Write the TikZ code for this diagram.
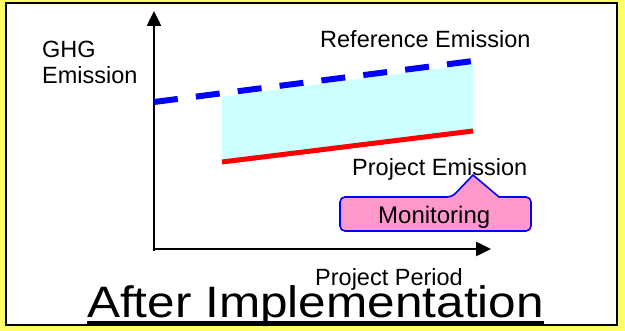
\documentclass[tikz,border=0pt]{standalone}
\usepackage{fontspec}
\setmainfont{Liberation Sans}
\usetikzlibrary{arrows.meta}
\definecolor{bgyellow}{RGB}{255,255,102}
\definecolor{gapcyan}{RGB}{204,255,255}
\definecolor{monpink}{RGB}{255,153,204}
\tikzset{
  axis/.style={line width=2.5pt,-{Triangle[length=15pt,width=14pt]}},
  lbl/.style={inner sep=0pt,font=\fontsize{23.5}{26}\selectfont},
}
\begin{document}
\begin{tikzpicture}[x=1pt,y=-1pt]
  % page and frame
  \fill[bgyellow] (0,0) rectangle (625,331);
  \draw[line width=2pt,fill=white] (6,3) rectangle (617,325);
  \useasboundingbox (0,0) rectangle (625,331);

  % axes
  \coordinate (O) at (154,249);
  \coordinate (ytip) at (154,11);
  \coordinate (xtip) at (491,249);
  \coordinate (ybot) at (154,251);
  \draw[axis] (ybot) -- (ytip);
  \draw[axis] (O) -- (xtip);

  % reduction band between reference and project emissions
  \fill[gapcyan] (222,97) -- (473,64) -- (473,131) -- (222,162) -- cycle;
  \coordinate (r1) at (154,102);
  \coordinate (r2) at (473,61);
  \coordinate (p1) at (222,162);
  \coordinate (p2) at (473,131);
  \draw[blue,line width=6pt,dash pattern=on 24pt off 18.2pt] (r1) -- (r2);
  \draw[red,line width=5pt] (p1) -- (p2);

  % labels
  \node[lbl,anchor=north west,align=left] (ylab) at (42,40.5) {GHG\\Emission};
  \node[lbl,anchor=base west] (reflab) at (320,48) {Reference Emission};
  \node[lbl,anchor=base west] (projlab) at (352,176) {Project Emission};
  \node[lbl,anchor=base west] (xlab) at (315,286) {Project Period};

  % monitoring callout
  \draw[blue,line width=1.6pt,fill=monpink,rounded corners=5pt]
    (340,214) -- (340,197) -- (452,197) [sharp corners] -- (473,175) -- (499,197)
    [rounded corners=5pt] -- (531,197) -- (531,231) -- (340,231) -- cycle;
  \node[lbl,anchor=base west,font=\fontsize{24}{26}\selectfont] (mon) at (378,224) {Monitoring};

  % title
  \node[inner sep=0pt,anchor=base west] (title) at (87,318)
    {\fontsize{44}{44}\selectfont\scalebox{1.125}[1]{After Implementation}};
  \draw[line width=2.5pt] (title.base west) ++(0,4.5) coordinate (u1) -- (u1 -| title.east);
\end{tikzpicture}
\end{document}
